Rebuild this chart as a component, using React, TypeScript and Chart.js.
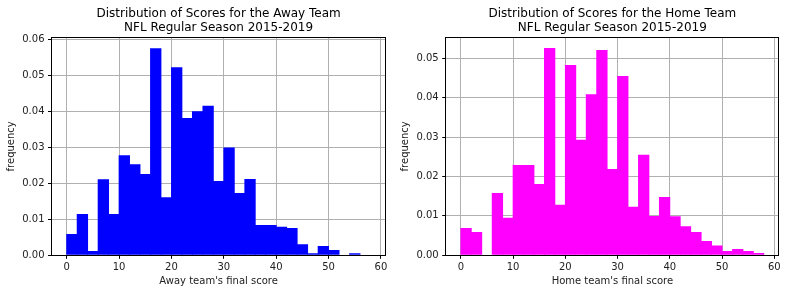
import React, { useEffect, useRef } from "react";
import { Chart, registerables } from "chart.js";

Chart.register(...registerables);

const FONT = "'DejaVu Sans', sans-serif";

// Histogram bins: width 2 points, starting at 0
const BIN_WIDTH = 2;
const xTickStep = 10;
const yTickStep = 0.01;

const awayFreq = [
  0.0059, 0.0115, 0.0012, 0.0211, 0.0115, 0.0278, 0.0253, 0.0226, 0.0575, 0.0161,
  0.0522, 0.0381, 0.04, 0.0415, 0.0206, 0.0299, 0.0173, 0.0212, 0.0084, 0.0084,
  0.0079, 0.0076, 0.0031, 0.0006, 0.0026, 0.0015, 0, 0.0006, 0,
];

const homeFreq = [
  0.0069, 0.0059, 0, 0.0158, 0.0095, 0.0229, 0.0229, 0.0181, 0.0526, 0.0128,
  0.0483, 0.0293, 0.0409, 0.0521, 0.0219, 0.0455, 0.0123, 0.0255, 0.01, 0.0148,
  0.0099, 0.0074, 0.0059, 0.0036, 0.0025, 0.0011, 0.0016, 0.0011, 0.0006,
];

const awayTitle = ["Distribution of Scores for the Away Team", "NFL Regular Season 2015-2019"];
const homeTitle = ["Distribution of Scores for the Home Team", "NFL Regular Season 2015-2019"];
const awayXLabel = "Away team's final score";
const homeXLabel = "Home team's final score";
const yLabel = "frequency";

const framePlugin = {
  id: "frame",
  afterDatasetsDraw(chart: any) {
    const { ctx, chartArea } = chart;
    const l = Math.round(chartArea.left) - 0.5;
    const t = Math.round(chartArea.top) + 0.5;
    const r = Math.round(chartArea.right) - 0.5;
    const b = Math.round(chartArea.bottom) + 0.5;
    ctx.save();
    ctx.strokeStyle = "#000";
    ctx.lineWidth = 1;
    ctx.strokeRect(l, t, r - l, b - t);
    ctx.restore();
  },
};

type HistProps = {
  left: number;
  title: string[];
  xLabel: string;
  values: number[];
  color: string;
  yMax: number;
  padRight: number;
  yWidth: number;
};

function Hist({ left, title, xLabel, values, color, yMax, padRight, yWidth }: HistProps) {
  const ref = useRef<HTMLCanvasElement | null>(null);
  useEffect(() => {
    if (!ref.current) return;
    const points = values.map((v, i) => ({ x: i * BIN_WIDTH + BIN_WIDTH / 2, y: v }));
    const tickFont = { family: FONT, size: 10 };
    const chart = new Chart(ref.current, {
      type: "bar",
      data: {
        datasets: [
          {
            data: points as any,
            backgroundColor: color,
            borderWidth: 0,
            barPercentage: 1.08,
            categoryPercentage: 1,
            inflateAmount: 0,
          },
        ],
      },
      options: {
        responsive: false,
        maintainAspectRatio: false,
        animation: false,
        layout: { padding: { left: 0, right: padRight, top: 0, bottom: 0 } },
        plugins: {
          legend: { display: false },
          tooltip: { enabled: false },
          title: {
            display: true,
            text: title,
            fullSize: false,
            color: "#000",
            font: { family: FONT, size: 12, weight: "normal", lineHeight: 1.17 },
            padding: { top: 7.1, bottom: 2.2 },
          },
        },
        scales: {
          x: {
            type: "linear",
            min: -2.9,
            max: 60.9,
            offset: false,
            border: { display: false },
            grid: { offset: false, color: "#b0b0b0", lineWidth: 1, tickColor: "#000", tickLength: 3.5 },
            ticks: {
              stepSize: xTickStep,
              includeBounds: false,
              color: "#222",
              font: tickFont,
              padding: 3,
              maxRotation: 0,
              autoSkip: false,
            },
            title: {
              display: true,
              text: xLabel,
              color: "#222",
              font: tickFont,
              padding: { top: 0, bottom: 6 },
            },
            afterFit: (s: any) => {
              s.height = 37.7;
            },
          },
          y: {
            type: "linear",
            min: 0,
            max: yMax,
            border: { display: false },
            grid: { color: "#b0b0b0", lineWidth: 1, tickColor: "#000", tickLength: 3.5 },
            ticks: {
              stepSize: yTickStep,
              includeBounds: false,
              color: "#222",
              font: tickFont,
              padding: 3.5,
              callback: (v: any) => Number(v).toFixed(2),
            },
            title: {
              display: true,
              text: yLabel,
              color: "#222",
              font: tickFont,
              padding: { top: 5.7, bottom: 0 },
            },
            afterFit: (s: any) => {
              s.width = yWidth;
            },
          },
        },
      } as any,
      plugins: [framePlugin],
    });
    return () => chart.destroy();
  }, []);
  return (
    <div style={{ position: "absolute", left, top: 0, width: 394, height: 293 }}>
      <canvas ref={ref} width={394} height={293} style={{ width: 394, height: 293, display: "block" }} />
    </div>
  );
}

export default function App() {
  return (
    <div style={{ position: "absolute", left: 0, top: 0, width: 788, height: 293, background: "#fff" }}>
      <Hist left={0} title={awayTitle} xLabel={awayXLabel} values={awayFreq} color="#0000ff" yMax={0.0605} padRight={8.3} yWidth={51.5} />
      <Hist left={394} title={homeTitle} xLabel={homeXLabel} values={homeFreq} color="#ff00ff" yMax={0.0553} padRight={9} yWidth={51.7} />
    </div>
  );
}
